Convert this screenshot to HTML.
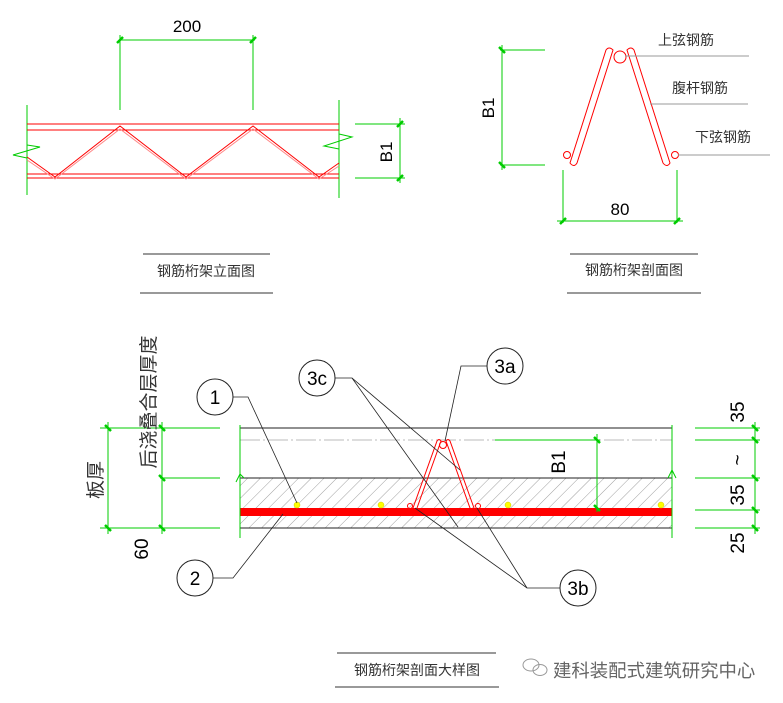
<!DOCTYPE html>
<html><head><meta charset="utf-8"><style>
body{margin:0;background:#fff}
svg{display:block}
text{font-family:"Liberation Sans","Noto Sans CJK SC",sans-serif}
</style></head><body>
<svg width="783" height="703" viewBox="0 0 783 703" xmlns="http://www.w3.org/2000/svg">
<defs>
<pattern id="h" width="9" height="9" patternUnits="userSpaceOnUse" patternTransform="rotate(45)">
<line x1="0" y1="0" x2="0" y2="9" stroke="#777" stroke-width="0.7"/></pattern>
</defs>
<g stroke="#0c0" stroke-width="1" fill="none">
<line x1="120" y1="40" x2="255" y2="40"/><line x1="120" y1="35" x2="120" y2="110"/><line x1="253" y1="35" x2="253" y2="110"/>
<line x1="27" y1="105" x2="27" y2="195"/><line x1="339" y1="100" x2="339" y2="198"/>
<polyline points="27,145 40,147 13,155 27,158"/>
<polyline points="339,134 352,137 324,146 339,149"/>
<line x1="355" y1="124" x2="405" y2="124"/><line x1="355" y1="178" x2="405" y2="178"/><line x1="400" y1="118" x2="400" y2="183"/>
</g>
<g stroke="#0c0" stroke-width="2.5"><line x1="117" y1="43" x2="123" y2="37"/><line x1="250" y1="43" x2="256" y2="37"/><line x1="397" y1="127" x2="403" y2="121"/><line x1="397" y1="181" x2="403" y2="175"/></g>
<text x="187" y="32" font-size="17" text-anchor="middle">200</text>
<text x="0" y="0" font-size="17" text-anchor="middle" transform="translate(392,152) rotate(-90)">B1</text>
<g stroke="#f00" stroke-width="1" fill="none">
<line x1="27" y1="124" x2="339" y2="124"/><line x1="27" y1="130" x2="339" y2="130"/>
<line x1="27" y1="174" x2="339" y2="174"/><line x1="27" y1="178" x2="339" y2="178"/>
<polyline points="27,157 55,177 120,126 186,177 253,126 319,177 339,163"/>
<polyline points="27,160 55,179 120,129 186,179 253,129 319,179 339,166" stroke="#f88"/>
</g>
<g stroke="#333" stroke-width="1"><line x1="143" y1="254" x2="270" y2="254"/><line x1="140" y1="293" x2="273" y2="293"/>
<line x1="570" y1="254" x2="698" y2="254"/><line x1="567" y1="293" x2="701" y2="293"/>
<line x1="337" y1="653" x2="496" y2="653"/><line x1="335" y1="687" x2="499" y2="687"/></g>
<text x="206" y="276" font-size="14" fill="#333" text-anchor="middle">钢筋桁架立面图</text>
<text x="634" y="275" font-size="14" fill="#333" text-anchor="middle">钢筋桁架剖面图</text>
<text x="417" y="675" font-size="14" fill="#333" text-anchor="middle">钢筋桁架剖面大样图</text>
<g stroke="#0c0" stroke-width="1" fill="none">
<line x1="500" y1="50" x2="545" y2="50"/><line x1="500" y1="165" x2="545" y2="165"/><line x1="502" y1="45" x2="502" y2="170"/>
<line x1="563" y1="170" x2="563" y2="223"/><line x1="677" y1="170" x2="677" y2="223"/><line x1="557" y1="221" x2="683" y2="221"/>
</g>
<g stroke="#0c0" stroke-width="2.5"><line x1="499" y1="47" x2="505" y2="53"/><line x1="499" y1="162" x2="505" y2="168"/><line x1="560" y1="224" x2="566" y2="218"/><line x1="674" y1="224" x2="680" y2="218"/></g>
<text x="0" y="0" font-size="17" text-anchor="middle" transform="translate(494,108) rotate(-90)">B1</text>
<text x="620" y="215" font-size="17" text-anchor="middle">80</text>
<g stroke="#f00" stroke-width="1" fill="none">
<path d="M606,50 Q609,46 613,50 L577,163 Q574,168 570,163 Z"/>
<path d="M627,50 Q631,46 634,50 L670,163 Q667,168 663,163 Z"/>
<circle cx="620" cy="57" r="6"/><circle cx="567" cy="155" r="3.5"/><circle cx="675" cy="155" r="3.5"/>
</g>
<g stroke="#999" stroke-width="1"><line x1="625" y1="56" x2="749" y2="56"/><line x1="650" y1="104" x2="748" y2="104"/><line x1="678" y1="155" x2="770" y2="155"/></g>
<g font-size="14" fill="#333"><text x="658" y="45">上弦钢筋</text><text x="672" y="93">腹杆钢筋</text><text x="695" y="142">下弦钢筋</text></g>
<rect x="240" y="478" width="432" height="50" fill="url(#h)"/>
<g stroke="#222" stroke-width="1"><line x1="240" y1="428" x2="672" y2="428"/><line x1="240" y1="478" x2="672" y2="478"/><line x1="240" y1="528" x2="672" y2="528"/></g>
<line x1="240" y1="440" x2="672" y2="440" stroke="#bbb" stroke-dasharray="20 3 2 3"/>
<rect x="240" y="508" width="432" height="8" fill="#f00"/>
<g fill="#ff0" stroke="#cc0" stroke-width="0.5"><circle cx="297" cy="505" r="3"/><circle cx="381" cy="505" r="3"/><circle cx="508" cy="505" r="3"/><circle cx="661" cy="505" r="3"/></g>
<g stroke="#f00" stroke-width="1" fill="none">
<path d="M437,441 Q439,438 441,441 L417,508 Q415,511 413,508 Z"/>
<path d="M446,441 Q448,438 450,441 L474,508 Q472,511 470,508 Z"/>
<circle cx="443" cy="445" r="3.5"/><circle cx="410" cy="506" r="2.5"/><circle cx="478" cy="506" r="2.5"/>
</g>
<g stroke="#0c0" stroke-width="1" fill="none">
<line x1="240" y1="425" x2="240" y2="538"/><line x1="672" y1="425" x2="672" y2="538"/>
<line x1="100" y1="428" x2="220" y2="428"/><line x1="160" y1="478" x2="220" y2="478"/><line x1="100" y1="528" x2="220" y2="528"/>
<line x1="108" y1="422" x2="108" y2="534"/><line x1="162" y1="422" x2="162" y2="534"/>
<line x1="495" y1="440" x2="600" y2="440"/><line x1="597" y1="434" x2="597" y2="512"/>
<line x1="695" y1="428" x2="760" y2="428"/><line x1="695" y1="440" x2="760" y2="440"/><line x1="695" y1="478" x2="760" y2="478"/><line x1="695" y1="510" x2="760" y2="510"/><line x1="695" y1="528" x2="760" y2="528"/>
<line x1="755" y1="422" x2="755" y2="534"/>
<polyline points="236,482 240,474 244,478"/><polyline points="668,478 672,470 676,478"/>
</g>
<g stroke="#0c0" stroke-width="2.5">
<line x1="105" y1="425" x2="111" y2="431"/><line x1="105" y1="525" x2="111" y2="531"/>
<line x1="159" y1="425" x2="165" y2="431"/><line x1="159" y1="475" x2="165" y2="481"/><line x1="159" y1="525" x2="165" y2="531"/>
<line x1="594" y1="437" x2="600" y2="443"/><line x1="594" y1="505" x2="600" y2="511"/>
<line x1="752" y1="425" x2="758" y2="431"/><line x1="752" y1="437" x2="758" y2="443"/><line x1="752" y1="475" x2="758" y2="481"/><line x1="752" y1="507" x2="758" y2="513"/><line x1="752" y1="525" x2="758" y2="531"/>
</g>
<g font-size="19" text-anchor="middle">
<text transform="translate(744,412) rotate(-90)">35</text>
<text transform="translate(744,460) rotate(-90)">~</text>
<text transform="translate(744,495) rotate(-90)">35</text>
<text transform="translate(744,543) rotate(-90)">25</text>
<text transform="translate(148,549) rotate(-90)">60</text>
<text transform="translate(565,462) rotate(-90)">B1</text>
</g>
<g font-size="19" fill="#333" text-anchor="middle">
<text transform="translate(102,480) rotate(-90)">板厚</text>
<text transform="translate(155,402) rotate(-90)">后浇叠合层厚度</text>
</g>
<g stroke="#222" stroke-width="0.8" fill="none">
<polyline points="233,397 248,397 297,503"/>
<polyline points="213,578 233,578 283,514"/>
<polyline points="335,378 352,378 458,527"/>
<polyline points="352,378 460,470"/>
<polyline points="488,366 461,366 445,441"/>
<polyline points="560,588 527,588 415,508"/><line x1="527" y1="588" x2="477" y2="508"/>
</g>
<g stroke="#222" stroke-width="1" fill="#fff">
<ellipse cx="215" cy="397" rx="18" ry="18"/><ellipse cx="195" cy="578" rx="18" ry="18"/>
<ellipse cx="317" cy="378" rx="18" ry="18"/><ellipse cx="505" cy="366" rx="18" ry="18"/>
<ellipse cx="578" cy="588" rx="18" ry="18"/>
</g>
<g font-size="19" text-anchor="middle">
<text x="215" y="404">1</text><text x="195" y="585">2</text><text x="317" y="385">3c</text><text x="505" y="373">3a</text><text x="578" y="595">3b</text>
</g>
<g stroke="#999" fill="none" stroke-width="1"><ellipse cx="531" cy="665" rx="8" ry="6"/><ellipse cx="540" cy="670" rx="7" ry="5.5"/></g>
<text x="553" y="677" font-size="18.4" fill="#666">建科装配式建筑研究中心</text>
</svg>
</body></html>
